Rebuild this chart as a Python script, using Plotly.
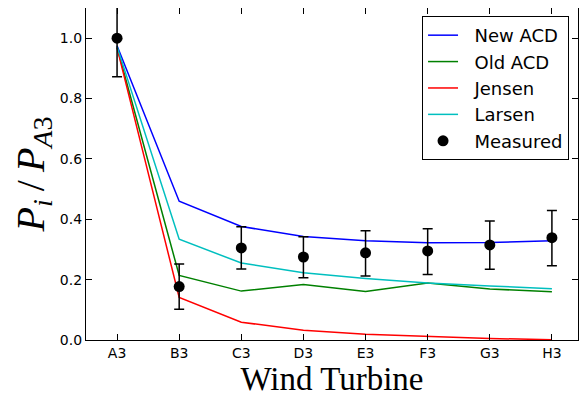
import plotly.graph_objects as go

turbines = ["A3", "B3", "C3", "D3", "E3", "F3", "G3", "H3"]
new_acd = [0.975, 0.460, 0.376, 0.343, 0.329, 0.322, 0.323, 0.329]
old_acd = [0.970, 0.214, 0.162, 0.184, 0.161, 0.189, 0.169, 0.160]
jensen = [0.968, 0.141, 0.059, 0.032, 0.019, 0.011, 0.005, 0.001]
larsen = [0.972, 0.334, 0.255, 0.223, 0.204, 0.189, 0.179, 0.170]
measured = [1.000, 0.177, 0.305, 0.275, 0.289, 0.295, 0.315, 0.339]
err_plus = [0.125, 0.075, 0.070, 0.067, 0.073, 0.074, 0.079, 0.090]
err_minus = [0.128, 0.075, 0.070, 0.069, 0.077, 0.078, 0.081, 0.093]

x = list(range(len(turbines)))

fig = go.Figure()
series = [("New ACD", new_acd, "#0000ff"),
          ("Old ACD", old_acd, "#008000"),
          ("Jensen", jensen, "#ff0000"),
          ("Larsen", larsen, "#00bfbf")]
pad = "\u00a0\u00a0"
for i, (name, vals, col) in enumerate(series):
    fig.add_trace(go.Scatter(x=x, y=vals, mode="lines", name=pad + name,
                             line=dict(color=col, width=1.5),
                             legendgroup=f"g{i}"))
fig.add_trace(go.Scatter(x=x, y=measured, mode="markers", name=pad + "Measured",
                         marker=dict(color="black", size=11),
                         error_y=dict(type="data", array=err_plus, arrayminus=err_minus,
                                      color="black", thickness=1.5, width=5),
                         legendgroup="g4"))

fig.update_layout(
    width=579, height=391,
    margin=dict(l=78, r=9, t=0, b=59),
    plot_bgcolor="white", paper_bgcolor="white",
    font=dict(family="DejaVu Sans", size=14, color="black"),
    showlegend=True,
    legend=dict(x=0.683, y=0.976, xanchor="left", yanchor="top",
                bgcolor="white", bordercolor="black", borderwidth=1,
                font=dict(size=18), tracegroupgap=0,
                traceorder="grouped"),
)
fig.update_xaxes(range=[-0.5, 7.42], tickvals=x, ticktext=turbines,
                 ticks="inside", ticklen=6, tickcolor="black",
                 showline=True, linecolor="black", linewidth=1.2, mirror="allticks",
                 showgrid=False, zeroline=False, automargin=False,
                 title=dict(text="Wind Turbine", font=dict(family="Liberation Serif", size=33),
                            standoff=4))
fig.update_yaxes(range=[0, 1.1], tickvals=[0, 0.2, 0.4, 0.6, 0.8, 1.0], tickformat=".1f",
                 ticks="inside", ticklen=6, tickcolor="black",
                 showline=True, linecolor="black", linewidth=1.2, mirror="allticks",
                 showgrid=False, zeroline=False, automargin=False,
                 title=dict(text="<i>P<sub>i</sub></i>\u2009/\u2009<i>P<sub>A</sub></i><sub>3</sub>",
                            font=dict(family="Liberation Serif", size=40), standoff=9))

fig.write_html("out.html")
